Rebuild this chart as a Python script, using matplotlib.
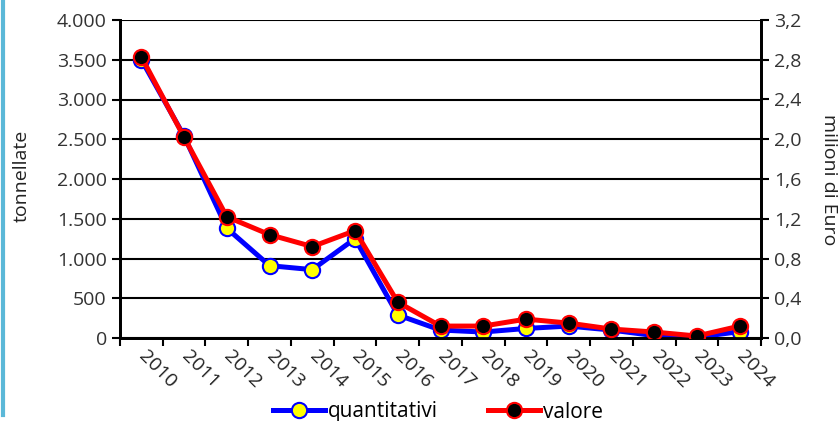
import matplotlib

matplotlib.use("Agg")
import matplotlib.pyplot as plt
from matplotlib.lines import Line2D
from matplotlib.ticker import FuncFormatter, MultipleLocator, FixedLocator

plt.rcParams["font.family"] = ["Open Sans", "DejaVu Sans"]

anni = ["2010", "2011", "2012", "2013", "2014", "2015", "2016", "2017",
        "2018", "2019", "2020", "2021", "2022", "2023", "2024"]
quantitativi = [3500, 2540, 1380, 910, 860, 1250, 290, 100, 75, 120, 150, 100, 30, 10, 80]
valore = [2.83, 2.02, 1.22, 1.04, 0.92, 1.08, 0.36, 0.12, 0.12, 0.19, 0.15, 0.09, 0.06, 0.02, 0.12]

W, H = 838, 421
fig = plt.figure(figsize=(W / 100, H / 100), dpi=100)
ax = fig.add_axes([120 / W, 1 - 338 / H, (761 - 120) / W, (338 - 20) / H])
ax2 = ax.twinx()

x = list(range(len(anni)))
l1, = ax.plot(x, quantitativi, color="#0000ff", lw=3.6, marker="o", ms=11,
              mfc="#ffff00", mec="#0000ff", mew=1.5, zorder=3)
l2, = ax2.plot(x, valore, color="#ff0000", lw=3.6, marker="o", ms=11,
               mfc="#000000", mec="#ff0000", mew=1.5, zorder=4)

ax.set_xlim(-0.5, len(anni) - 0.5)
ax.set_ylim(0, 4000)
ax2.set_ylim(0, 3.2)
ax.yaxis.set_major_locator(MultipleLocator(500))
ax2.yaxis.set_major_locator(MultipleLocator(0.4))
ax.yaxis.set_major_formatter(FuncFormatter(lambda v, p: f"{int(v):,}".replace(",", ".")))
ax2.yaxis.set_major_formatter(FuncFormatter(lambda v, p: f"{v:.1f}".replace(".", ",")))

# tick di categoria ai bordi, etichette al centro
ax.xaxis.set_major_locator(FixedLocator([i - 0.5 for i in range(len(anni) + 1)]))
ax.xaxis.set_major_formatter(FuncFormatter(lambda v, p: ""))
ax.set_xticks(x, minor=True)
ax.set_xticklabels(anni, minor=True, rotation=-45, ha="left", va="center",
                   rotation_mode="anchor", fontsize=14, color="#222222")
ax.tick_params(axis="x", which="major", length=6, width=1.5, direction="out")
ax.tick_params(axis="x", which="minor", length=0, pad=11)

ax.grid(axis="y", color="black", lw=1.5)
ax.set_axisbelow(True)
for a in (ax, ax2):
    a.tick_params(axis="y", length=6, width=1.5, labelsize=14,
                  color="black", labelcolor="#333333")
    a.spines["top"].set_visible(False)
    for s in ("left", "right", "bottom"):
        a.spines[s].set_linewidth(2)

fig.text(22 / W, 1 - 176 / H, "tonnellate", rotation=90, ha="center", va="center",
         fontsize=14, color="#222222")
fig.text(829 / W, 1 - 180 / H, "milioni di Euro", rotation=270, ha="center", va="center",
         fontsize=14, color="#222222")

fig.legend([l1, l2], ["quantitativi", "valore"], loc="center", ncol=2,
           bbox_to_anchor=(0.523, 1 - 412 / H), frameon=False, fontsize=15,
           handlelength=2.5, columnspacing=2.4, handletextpad=0.15)

# bordo azzurro a sinistra
fig.add_artist(Line2D([0.003, 0.003], [0.015, 1], transform=fig.transFigure,
                      color="#5bb8d8", lw=3))

fig.savefig("out.png", dpi=100)
